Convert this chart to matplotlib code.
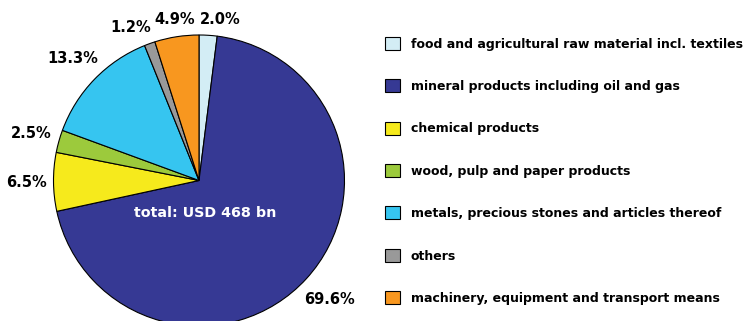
import numpy as np
import matplotlib
matplotlib.use("Agg")
import matplotlib.pyplot as plt

# export structure by product group, shares in percent
categories = [
    "food and agricultural raw material incl. textiles",
    "mineral products including oil and gas",
    "chemical products",
    "wood, pulp and paper products",
    "metals, precious stones and articles thereof",
    "others",
    "machinery, equipment and transport means",
]
shares = [2.0, 69.6, 6.5, 2.5, 13.3, 1.2, 4.9]
colors = ["#d3edf5", "#363994", "#f6ea1c", "#9cca3c", "#36c5f0", "#999999", "#f8971f"]
total_label = "total: USD 468 bn"

W, H = 750, 321
RADIUS_PX = 145.5
CX, CY = 199, 180.5  # pie centre, px from top-left

fig = plt.figure(figsize=(W / 100, H / 100), dpi=100)
ax = fig.add_axes([(CX - RADIUS_PX) / W, (H - CY - RADIUS_PX) / H,
                   2 * RADIUS_PX / W, 2 * RADIUS_PX / H])

wedges, _ = ax.pie(
    shares,
    colors=colors,
    startangle=90,
    counterclock=False,
    wedgeprops=dict(edgecolor="black", linewidth=0.8),
)
ax.set_xlim(-1, 1)
ax.set_ylim(-1, 1)
ax.axis("off")

# percentage labels sit just outside the rim, pushed out by their own size
renderer = fig.canvas.get_renderer()
pad_px = 7
labels = []
angles = []
for w, s in zip(wedges, shares):
    t = ax.text(0, 0, f"{s:.1f}%", fontsize=10.5, fontweight="bold",
                ha="center", va="center", clip_on=False)
    labels.append(t)
    angles.append((w.theta1 + w.theta2) / 2)


def place(t, ang_deg):
    a = np.deg2rad(ang_deg)
    ux, uy = np.cos(a), np.sin(a)
    bb = t.get_window_extent(renderer)
    support = bb.width / 2 * abs(ux) + bb.height / 2 * abs(uy)
    d = (RADIUS_PX + pad_px + support) / RADIUS_PX
    t.set_position((d * ux, d * uy))


for t, a in zip(labels, angles):
    place(t, a)

# spread neighbouring labels apart until they no longer touch
for _ in range(60):
    moved = False
    for i in range(len(labels)):
        j = (i + 1) % len(labels)
        bi = labels[i].get_window_extent(renderer).padded(2)
        bj = labels[j].get_window_extent(renderer).padded(2)
        if bi.overlaps(bj):
            # pie runs clockwise, so label i has the larger angle
            angles[i] += 0.4
            angles[j] -= 0.4
            place(labels[i], angles[i])
            place(labels[j], angles[j])
            moved = True
    if not moved:
        break

ax.text(0.04, -0.22, total_label, color="white", fontsize=10.3,
        fontweight="bold", ha="center", va="center")

fig.legend(
    wedges, categories,
    loc="upper left",
    bbox_to_anchor=(380 / W, 1 - 32 / H),
    frameon=False,
    prop=dict(size=9, weight="bold"),
    handlelength=1.2,
    handleheight=1.2,
    handletextpad=0.85,
    labelspacing=2.3,
    borderaxespad=0,
)

fig.savefig("out.png", dpi=100)
